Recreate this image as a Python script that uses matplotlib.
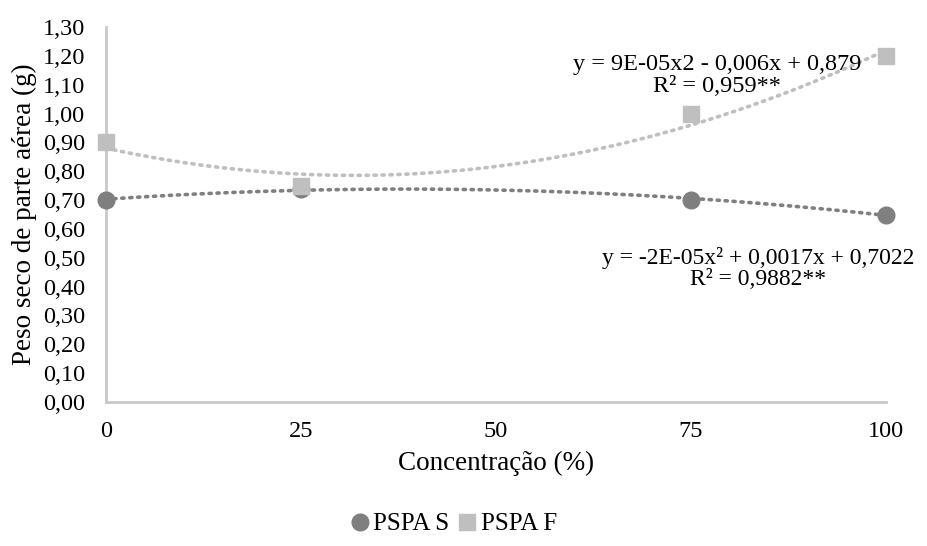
import numpy as np
import matplotlib.pyplot as plt

plt.rcParams['font.family'] = ['Liberation Serif', 'DejaVu Serif']

conc = [0, 25, 75, 100]
pspa_s = [0.70, 0.74, 0.70, 0.65]
pspa_f = [0.90, 0.75, 1.00, 1.20]
yticks = np.arange(0, 1.31, 0.1)

col_s = '#7f7f7f'
col_f = '#bfbfbf'

fig = plt.figure(figsize=(9.27, 5.46), dpi=100)
ax = fig.add_axes([0.1143, 0.2637, 0.8415, 0.6868])

# polynomial trend lines (order 2), like the spreadsheet
xx = np.linspace(0, 100, 200)
for ys, c in ((pspa_s, col_s), (pspa_f, col_f)):
    p = np.polyfit(conc, ys, 2)
    ax.plot(xx, np.polyval(p, xx), color=c, lw=2.6, ls=(0, (0.6, 1.6)),
            dash_capstyle='round', zorder=2)

ax.plot(conc, pspa_s, 'o', color=col_s, ms=12, label='PSPA S', zorder=3, clip_on=False)
ax.plot(conc, pspa_f, 's', color=col_f, ms=12, label='PSPA F', zorder=3, clip_on=False)

ax.set_xlim(0, 100)
ax.set_ylim(0, 1.3)
ax.set_xticks([0, 25, 50, 75, 100])
ax.set_yticks(yticks)
ax.set_yticklabels(['{:.2f}'.format(v).replace('.', ',') for v in yticks])
ax.tick_params(length=0, labelsize=17.5)
ax.tick_params(axis='y', pad=15)
ax.tick_params(axis='x', pad=14)
for s in ('top', 'right'):
    ax.spines[s].set_visible(False)
for s in ('left', 'bottom'):
    ax.spines[s].set_color('#c8c8c8')
    ax.spines[s].set_linewidth(2)

ax.set_xlabel('Concentração (%)', fontsize=19.5, labelpad=6)
ax.set_ylabel('Peso seco de parte aérea (g)', fontsize=19.5, labelpad=4)

ax.text(78.3, 1.132, 'y = 9E-05x2 - 0,006x + 0,879\nR² = 0,959**',
        ha='center', va='center', fontsize=17.5, linespacing=1.05)
ax.text(83.6, 0.463, 'y = -2E-05x² + 0,0017x + 0,7022\nR² = 0,9882**',
        ha='center', va='center', fontsize=17, linespacing=1.05)

fig.legend(loc='center', bbox_to_anchor=(0.489, 0.04), ncol=2, frameon=False,
           fontsize=18, handlelength=0.8, handletextpad=0.15, columnspacing=0.3)

fig.savefig('out.png', dpi=100)
